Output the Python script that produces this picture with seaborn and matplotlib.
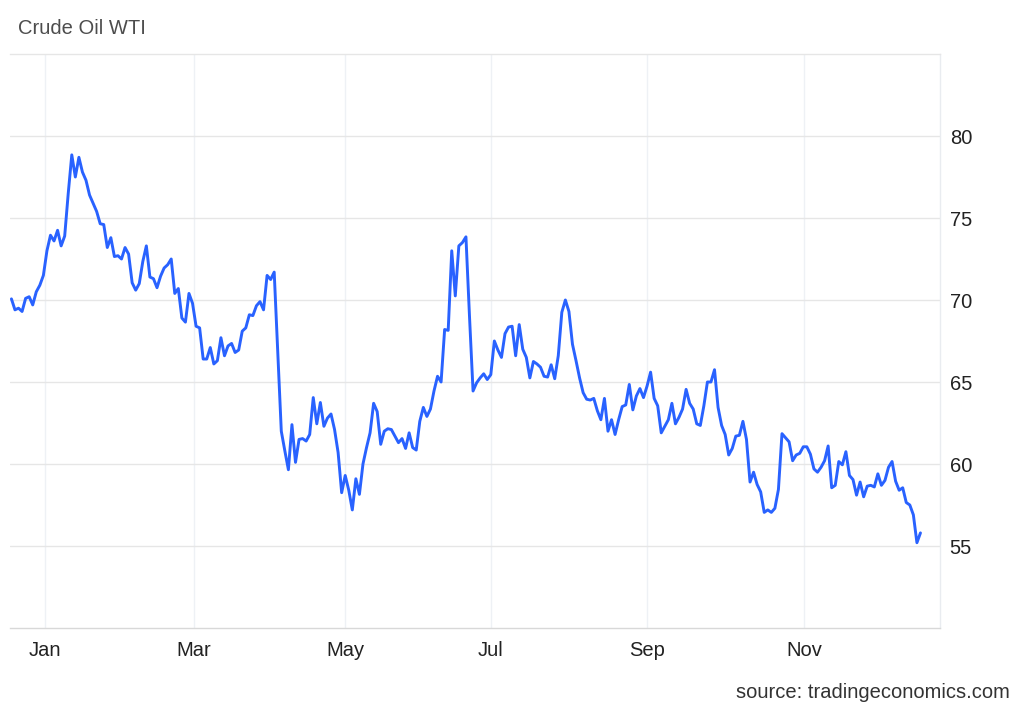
import numpy as np
import pandas as pd
import matplotlib
matplotlib.use("Agg")
import matplotlib.pyplot as plt
import seaborn as sns

# ---- data ----
title = "Crude Oil WTI"
source = "source: tradingeconomics.com"
start_date = "2024-12-17"
holidays = ["2024-12-25", "2025-01-01", "2025-04-18", "2025-05-26", "2025-06-19"]
prices = [
    70.07, 69.4, 69.5, 69.3, 70.1, 70.2, 69.7, 70.5, 70.9, 71.5,
    73.0, 73.95, 73.6, 74.25, 73.3, 73.9, 76.5, 78.85, 77.5, 78.7,
    77.8, 77.3, 76.4, 75.9, 75.4, 74.65, 74.6, 73.2, 73.8, 72.65,
    72.7, 72.5, 73.2, 72.8, 71.05, 70.6, 71.0, 72.35, 73.3, 71.4,
    71.3, 70.75, 71.45, 71.95, 72.15, 72.5, 70.4, 70.7, 68.9, 68.65,
    70.4, 69.8, 68.4, 68.3, 66.4, 66.4, 67.1, 66.1, 66.3, 67.7,
    66.6, 67.2, 67.35, 66.8, 66.95, 68.1, 68.3, 69.1, 69.05, 69.65,
    69.9, 69.4, 71.5, 71.25, 71.7, 66.9, 62.0, 60.8, 59.65, 62.4,
    60.1, 61.5, 61.55, 61.4, 61.8, 64.05, 62.45, 63.75, 62.3, 62.8,
    63.05, 62.1, 60.7, 58.25, 59.3, 58.4, 57.2, 59.1, 58.15, 60.0,
    61.0, 61.9, 63.7, 63.2, 61.2, 62.0, 62.15, 62.1, 61.7, 61.3,
    61.55, 60.95, 61.9, 61.0, 60.85, 62.6, 63.45, 62.9, 63.35, 64.45,
    65.35, 65.0, 68.2, 68.15, 73.0, 70.25, 73.3, 73.5, 73.85, 69.0,
    64.45, 64.95, 65.25, 65.5, 65.15, 65.45, 67.5, 66.95, 66.5, 67.95,
    68.35, 68.4, 66.6, 68.5, 67.0, 66.5, 65.25, 66.25, 66.1, 65.9,
    65.35, 65.3, 66.05, 65.2, 66.6, 69.25, 70.0, 69.3, 67.3, 66.3,
    65.25, 64.35, 63.95, 63.9, 64.0, 63.25, 62.7, 64.0, 62.0, 62.7,
    61.8, 62.7, 63.5, 63.6, 64.85, 63.3, 64.15, 64.6, 64.05, 64.75,
    65.6, 64.0, 63.55, 61.9, 62.3, 62.7, 63.7, 62.45, 62.85, 63.35,
    64.55, 63.7, 63.35, 62.45, 62.35, 63.55, 65.0, 65.0, 65.75, 63.45,
    62.35, 61.8, 60.55, 60.95, 61.7, 61.75, 62.6, 61.5, 58.9, 59.5,
    58.75, 58.3, 57.05, 57.2, 57.05, 57.3, 58.45, 61.85, 61.6, 61.35,
    60.2, 60.55, 60.65, 61.05, 61.05, 60.6, 59.7, 59.5, 59.8, 60.2,
    61.1, 58.55, 58.7, 60.15, 59.95, 60.75, 59.3, 59.05, 58.1, 58.9,
    58.0, 58.65, 58.7, 58.6, 59.4, 58.7, 59.0, 59.8, 60.15, 58.95,
    58.4, 58.55, 57.65, 57.5, 56.9, 55.2, 55.8,
]
month_starts = ["2025-01-01", "2025-03-01", "2025-05-01", "2025-07-01", "2025-09-01", "2025-11-01"]
month_labels = ["Jan", "Mar", "May", "Jul", "Sep", "Nov"]
y_ticks = [55, 60, 65, 70, 75, 80]
y_range = (50, 85)

# ---- build frame ----
dates = pd.bdate_range(start=start_date, periods=len(prices), freq="C", holidays=holidays)
df = pd.DataFrame({"date": dates, "price": prices})
df["idx"] = np.arange(len(df))

# tick positions: where each month start falls along the trading-day index
date_num = df["date"].map(pd.Timestamp.toordinal).to_numpy()
tick_pos = np.interp([pd.Timestamp(m).toordinal() for m in month_starts], date_num, df["idx"].to_numpy())

sns.set_theme(style="white")
plt.rcParams["font.family"] = ["Liberation Sans", "DejaVu Sans"]

fig = plt.figure(figsize=(10.24, 7.10), dpi=100)
ax = fig.add_axes([10 / 1024, 1 - 628 / 710, 930 / 1024, 574 / 710])

sns.lineplot(data=df, x="idx", y="price", ax=ax, color="#2962ff", linewidth=2.1)

ax.set_ylim(*y_range)
ax.set_xlim(-0.4, len(df) + 4.5)
ax.set_xlabel("")
ax.set_ylabel("")

ax.yaxis.tick_right()
ax.set_yticks(y_ticks)
ax.set_yticklabels([str(v) for v in y_ticks])
ax.set_xticks(tick_pos)
ax.set_xticklabels(month_labels)
ax.tick_params(axis="y", length=0, pad=7, labelsize=14.5, labelcolor="#222222")
ax.tick_params(axis="x", length=0, pad=9, labelsize=14.5, labelcolor="#222222")

ax.grid(False)
ax.yaxis.grid(True, color="#e6e6e6", linewidth=1.0)
ax.xaxis.grid(True, color="#eef1f5", linewidth=1.0)
ax.set_axisbelow(True)

ax.spines["left"].set_visible(False)
ax.spines["top"].set_color("#e6e6e6")
ax.spines["top"].set_linewidth(1.0)
ax.spines["right"].set_color("#e9ecf0")
ax.spines["right"].set_linewidth(1.0)
ax.spines["bottom"].set_color("#d8d8d8")
ax.spines["bottom"].set_linewidth(1.0)

fig.text(18 / 1024, 1 - 28 / 710, title, fontsize=14.5, color="#4d4d4d", ha="left", va="center")
fig.text(1010 / 1024, 1 - 693 / 710, source, fontsize=14.5, color="#333333", ha="right", va="center")

fig.savefig("out.png", dpi=100)
